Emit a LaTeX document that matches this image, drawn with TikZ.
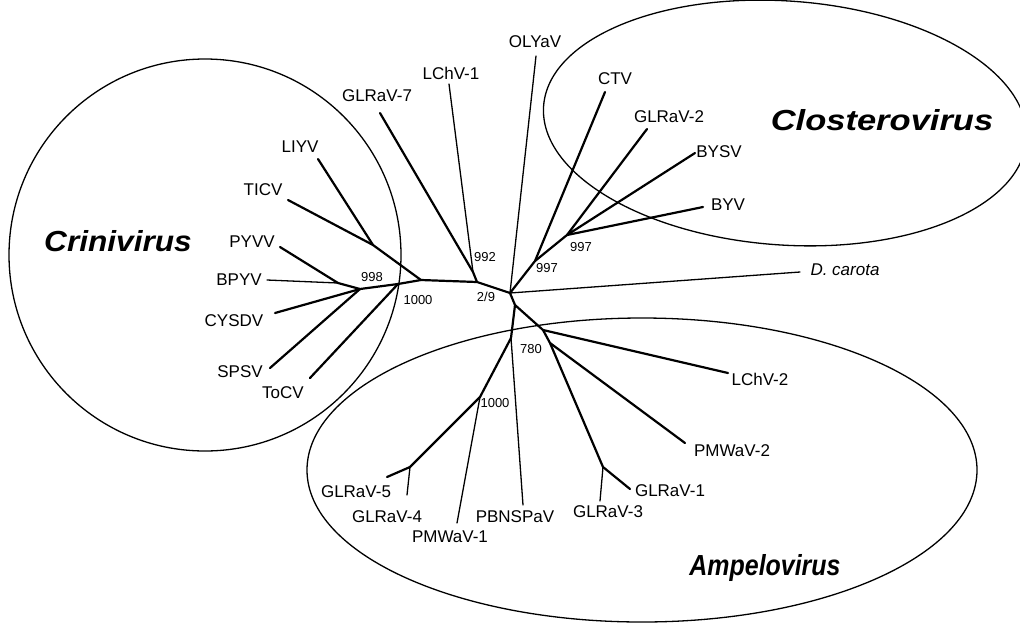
\documentclass[tikz,border=0pt]{standalone}
\usepackage{fontspec}
\setmainfont{Liberation Sans}
\begin{document}
\begin{tikzpicture}[x=1pt,y=-1pt,
  thickbr/.style={line width=2.2pt,line cap=round},
  thinbr/.style={line width=1.3pt,line cap=round},
  lab/.style={font=\fontsize{17}{19}\selectfont, inner sep=0pt},
  boot/.style={font=\fontsize{13}{15}\selectfont, inner sep=0pt},
  genus/.style={font=\fontsize{29}{32}\selectfont\bfseries\itshape, inner sep=0pt},
  grp/.style={line width=1.3pt}]
\useasboundingbox (0,0) rectangle (1020,630);
\clip (0,0) rectangle (1020,630);
% group outlines
\draw[grp] (205,255) circle [radius=196];
\draw[grp, rotate around={-4:(785,123)}] (785,123) ellipse [x radius=242, y radius=122];
\draw[grp] (642,470) ellipse [x radius=335, y radius=152];
% internal nodes
\coordinate (c) at (510,293);
\coordinate (n992) at (473,272);
\coordinate (nA) at (477,282);
\coordinate (nB) at (421,280);
\coordinate (nLT) at (373,245);
\coordinate (n1000) at (398,284);
\coordinate (n998) at (360,289);
\coordinate (nPB) at (338,283);
\coordinate (n997a) at (535,261);
\coordinate (n997b) at (567,235);
\coordinate (nb0) at (515,305);
\coordinate (n780) at (543,330);
\coordinate (n780b) at (550,343);
\coordinate (nG13) at (603,467);
\coordinate (nP) at (511,338);
\coordinate (nK) at (480,397);
\coordinate (nG45) at (410,467);
% leaf ends
\coordinate (eGLRaV7) at (380,113);
\coordinate (eLChV1) at (449,84);
\coordinate (eOLYaV) at (536,56);
\coordinate (eLIYV) at (318,159);
\coordinate (eTICV) at (288,200);
\coordinate (ePYVV) at (280,247);
\coordinate (eBPYV) at (267,280);
\coordinate (eCYSDV) at (275,313);
\coordinate (eSPSV) at (270,368);
\coordinate (eToCV) at (310,378);
\coordinate (eCTV) at (605,92);
\coordinate (eGLRaV2) at (647,129);
\coordinate (eBYSV) at (695,153);
\coordinate (eBYV) at (703,207);
\coordinate (eDc) at (800,272);
\coordinate (eLChV2) at (728,373);
\coordinate (ePMWaV2) at (685,443);
\coordinate (eGLRaV1) at (630,489);
\coordinate (eGLRaV3) at (600,501);
\coordinate (ePBNSPaV) at (523,505);
\coordinate (ePMWaV1) at (457,523);
\coordinate (eGLRaV5) at (387,477);
\coordinate (eGLRaV4) at (407,495);
% branches
\draw[thickbr] (c) -- (nA) -- (nB) -- (n1000) -- (n998) -- (nPB);
\draw[thickbr] (eGLRaV7) -- (n992) -- (nA);
\draw[thinbr] (eLChV1) -- (n992);
\draw[thickbr] (eLIYV) -- (nLT);
\draw[thickbr] (eTICV) -- (nLT) -- (nB);
\draw[thickbr] (ePYVV) -- (nPB);
\draw[thinbr] (eBPYV) -- (nPB);
\draw[thickbr] (eCYSDV) -- (n998);
\draw[thickbr] (eSPSV) -- (n998);
\draw[thickbr] (eToCV) -- (n1000);
\draw[thinbr] (eOLYaV) -- (c);
\draw[thickbr] (c) -- (n997a) -- (n997b);
\draw[thickbr] (eCTV) -- (n997a);
\draw[thickbr] (eGLRaV2) -- (n997b);
\draw[thickbr] (eBYSV) -- (n997b);
\draw[thickbr] (eBYV) -- (n997b);
\draw[thinbr] (c) -- (eDc);
\draw[thickbr] (c) -- (nb0) -- (n780) -- (n780b);
\draw[thickbr] (n780) -- (eLChV2);
\draw[thickbr] (n780b) -- (ePMWaV2);
\draw[thickbr] (n780b) -- (nG13) -- (eGLRaV1);
\draw[thinbr] (nG13) -- (eGLRaV3);
\draw[thickbr] (nb0) -- (nP);
\draw[thinbr] (nP) -- (ePBNSPaV);
\draw[thickbr] (nP) -- (nK) -- (nG45) -- (eGLRaV5);
\draw[thinbr] (nK) -- (ePMWaV1);
\draw[thinbr] (nG45) -- (eGLRaV4);
% leaf labels
\node[lab] (lOLYaV) at (535,42) {OLYaV};
\node[lab] (lCTV) at (615,79) {CTV};
\node[lab] (lGLRaV2) at (669,117) {GLRaV-2};
\node[lab] (lBYSV) at (719,152) {BYSV};
\node[lab] (lBYV) at (728,205) {BYV};
\node[lab] (lDc) at (845,270) {\textit{D. carota}};
\node[lab] (lLChV1) at (451,73) {LChV-1};
\node[lab] (lGLRaV7) at (377,96) {GLRaV-7};
\node[lab] (lLIYV) at (300,147) {LIYV};
\node[lab] (lTICV) at (263,190) {TICV};
\node[lab] (lPYVV) at (252,242) {PYVV};
\node[lab] (lBPYV) at (239,280) {BPYV};
\node[lab] (lCYSDV) at (234,321) {CYSDV};
\node[lab] (lSPSV) at (240,372) {SPSV};
\node[lab] (lToCV) at (283,393) {ToCV};
\node[lab] (lLChV2) at (760,379) {LChV-2};
\node[lab] (lPMWaV2) at (732,451) {PMWaV-2};
\node[lab] (lGLRaV1) at (670,491) {GLRaV-1};
\node[lab] (lGLRaV3) at (608,512) {GLRaV-3};
\node[lab] (lPBNSPaV) at (515,517) {PBNSPaV};
\node[lab] (lPMWaV1) at (450,537) {PMWaV-1};
\node[lab] (lGLRaV4) at (387,517) {GLRaV-4};
\node[lab] (lGLRaV5) at (356,492) {GLRaV-5};
% bootstrap values
\node[boot] (b998) at (372,277) {998};
\node[boot] (b1000a) at (418,300) {1000};
\node[boot] (b992) at (485,257) {992};
\node[boot] (b279) at (486,297) {2/9};
\node[boot] (b997a) at (547,268) {997};
\node[boot] (b997b) at (581,247) {997};
\node[boot] (b780) at (531,349) {780};
\node[boot] (b1000b) at (495,403) {1000};
% genus names
\node[genus] (tCrini) at (118,241) {\scalebox{1.09}[1]{Crinivirus}};
\node[genus] (tClost) at (882,120) {\scalebox{1.19}[1]{Closterovirus}};
\node[genus] (tAmpel) at (765,568) {\scalebox{0.86}[1]{Ampelovirus}};
\end{tikzpicture}
\end{document}
